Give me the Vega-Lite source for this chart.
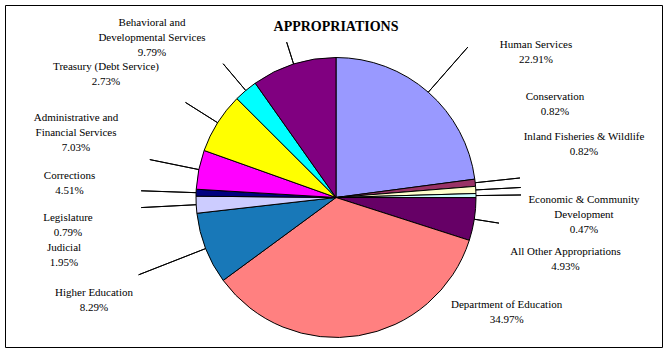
{
  "$schema": "https://vega.github.io/schema/vega-lite/v6.json",
  "width": 657,
  "height": 342,
  "autosize": {"type": "none"},
  "padding": {"left": 5, "top": 5, "right": 7, "bottom": 6},
  "background": "white",
  "view": {"stroke": "black", "strokeWidth": 1, "fill": null},
  "config": {"view": {"stroke": "black", "strokeWidth": 1}, "style": {"cell": {"stroke": "black", "strokeWidth": 1}}, "font": "Liberation Serif"},
  "title": {"text": "APPROPRIATIONS", "font": "Liberation Serif", "fontSize": 14, "fontWeight": "bold", "color": "black", "anchor": "middle", "frame": "group", "baseline": "alphabetic", "offset": -24, "dx": 2.5, "dy": 16},
  "data": {"values": [
    {"name": "Human Services", "value": 22.91, "label": "Human Services\n22.91%"},
    {"name": "Conservation", "value": 0.82, "label": "Conservation\n0.82%"},
    {"name": "Inland Fisheries & Wildlife", "value": 0.82, "label": "Inland Fisheries & Wildlife\n0.82%"},
    {"name": "Economic & Community Development", "value": 0.47, "label": "Economic & Community\nDevelopment\n0.47%"},
    {"name": "All Other Appropriations", "value": 4.93, "label": "All Other Appropriations\n4.93%"},
    {"name": "Department of Education", "value": 34.97, "label": "Department of Education\n34.97%"},
    {"name": "Higher Education", "value": 8.29, "label": "Higher Education\n8.29%"},
    {"name": "Judicial", "value": 1.95, "label": "Judicial\n1.95%"},
    {"name": "Legislature", "value": 0.79, "label": "Legislature\n0.79%"},
    {"name": "Corrections", "value": 4.51, "label": "Corrections\n4.51%"},
    {"name": "Administrative and Financial Services", "value": 7.03, "label": "Administrative and\nFinancial Services\n7.03%"},
    {"name": "Treasury (Debt Service)", "value": 2.73, "label": "Treasury (Debt Service)\n2.73%"},
    {"name": "Behavioral and Developmental Services", "value": 9.79, "label": "Behavioral and\nDevelopmental Services\n9.79%"}
  ]},
  "transform": [
    {"stack": "value", "groupby": [], "as": ["v0", "v1"]},
    {"calculate": "(datum.v0 + datum.v1) / 2", "as": "mid"}
  ],
  "layer": [
    {
      "mark": {"type": "arc", "outerRadius": 140, "stroke": "black", "strokeWidth": 1, "x": {"expr": "width/2+2.5"}, "y": {"expr": "height/2+21.5"}},
      "encoding": {
        "theta": {"field": "v0", "type": "quantitative", "stack": null, "scale": {"domain": [0, 100.01]}},
        "theta2": {"field": "v1"},
        "color": {"field": "name", "type": "nominal", "legend": null, "scale": {
          "domain": ["Human Services", "Conservation", "Inland Fisheries & Wildlife", "Economic & Community Development", "All Other Appropriations", "Department of Education", "Higher Education", "Judicial", "Legislature", "Corrections", "Administrative and Financial Services", "Treasury (Debt Service)", "Behavioral and Developmental Services"],
          "range": ["#9999FF", "#993366", "#FFFFCC", "#CCFFFF", "#660066", "#FF8080", "#1878B8", "#CCCCFF", "#000080", "#FF00FF", "#FFFF00", "#00FFFF", "#800080"]}}
      }
    },
    {"transform": [{"filter": "datum.name === 'Human Services'"}], "layer": [
      {"mark": {"type": "arc", "innerRadius": 140, "outerRadius": 200, "filled": false, "stroke": "black", "strokeWidth": 1, "x": {"expr": "width/2+2.5"}, "y": {"expr": "height/2+21.5"}}, "encoding": {"theta": {"field": "mid", "type": "quantitative", "stack": null, "scale": {"domain": [0, 100.01]}}, "theta2": {"field": "mid"}}},
      {"mark": {"type": "text", "radius": 140, "dx": 107.7, "dy": -47.2, "x": {"expr": "width/2+2.5"}, "y": {"expr": "height/2+21.5"}, "align": "center", "baseline": "middle", "lineBreak": "\n", "font": "Liberation Serif", "fontSize": 11, "lineHeight": 15, "color": "black"}, "encoding": {"theta": {"field": "mid", "type": "quantitative", "stack": null, "scale": {"domain": [0, 100.01]}}, "text": {"field": "label"}}}
    ]},
    {"transform": [{"filter": "datum.name === 'Conservation'"}], "layer": [
      {"mark": {"type": "arc", "innerRadius": 140, "outerRadius": 185, "filled": false, "stroke": "black", "strokeWidth": 1, "x": {"expr": "width/2+2.5"}, "y": {"expr": "height/2+21.5"}}, "encoding": {"theta": {"field": "mid", "type": "quantitative", "stack": null, "scale": {"domain": [0, 100.01]}}, "theta2": {"field": "mid"}}},
      {"mark": {"type": "text", "radius": 140, "dx": 79.8, "dy": -85.7, "x": {"expr": "width/2+2.5"}, "y": {"expr": "height/2+21.5"}, "align": "center", "baseline": "middle", "lineBreak": "\n", "font": "Liberation Serif", "fontSize": 11, "lineHeight": 15, "color": "black"}, "encoding": {"theta": {"field": "mid", "type": "quantitative", "stack": null, "scale": {"domain": [0, 100.01]}}, "text": {"field": "label"}}}
    ]},
    {"transform": [{"filter": "datum.name === 'Inland Fisheries & Wildlife'"}], "layer": [
      {"mark": {"type": "arc", "innerRadius": 140, "outerRadius": 185, "filled": false, "stroke": "black", "strokeWidth": 1, "x": {"expr": "width/2+2.5"}, "y": {"expr": "height/2+21.5"}}, "encoding": {"theta": {"field": "mid", "type": "quantitative", "stack": null, "scale": {"domain": [0, 100.01]}}, "theta2": {"field": "mid"}}},
      {"mark": {"type": "text", "radius": 140, "dx": 108.2, "dy": -52.9, "x": {"expr": "width/2+2.5"}, "y": {"expr": "height/2+21.5"}, "align": "center", "baseline": "middle", "lineBreak": "\n", "font": "Liberation Serif", "fontSize": 11, "lineHeight": 15, "color": "black"}, "encoding": {"theta": {"field": "mid", "type": "quantitative", "stack": null, "scale": {"domain": [0, 100.01]}}, "text": {"field": "label"}}}
    ]},
    {"transform": [{"filter": "datum.name === 'Economic & Community Development'"}], "layer": [
      {"mark": {"type": "arc", "innerRadius": 140, "outerRadius": 185, "filled": false, "stroke": "black", "strokeWidth": 1, "x": {"expr": "width/2+2.5"}, "y": {"expr": "height/2+21.5"}}, "encoding": {"theta": {"field": "mid", "type": "quantitative", "stack": null, "scale": {"domain": [0, 100.01]}}, "theta2": {"field": "mid"}}},
      {"mark": {"type": "text", "radius": 140, "dx": 108, "dy": 4.4, "x": {"expr": "width/2+2.5"}, "y": {"expr": "height/2+21.5"}, "align": "center", "baseline": "middle", "lineBreak": "\n", "font": "Liberation Serif", "fontSize": 11, "lineHeight": 15, "color": "black"}, "encoding": {"theta": {"field": "mid", "type": "quantitative", "stack": null, "scale": {"domain": [0, 100.01]}}, "text": {"field": "label"}}}
    ]},
    {"transform": [{"filter": "datum.name === 'All Other Appropriations'"}], "layer": [
      {"mark": {"type": "arc", "innerRadius": 140, "outerRadius": 165, "filled": false, "stroke": "black", "strokeWidth": 1, "x": {"expr": "width/2+2.5"}, "y": {"expr": "height/2+21.5"}}, "encoding": {"theta": {"field": "mid", "type": "quantitative", "stack": null, "scale": {"domain": [0, 100.01]}}, "theta2": {"field": "mid"}}},
      {"mark": {"type": "text", "radius": 140, "dx": 91.2, "dy": 32.8, "x": {"expr": "width/2+2.5"}, "y": {"expr": "height/2+21.5"}, "align": "center", "baseline": "middle", "lineBreak": "\n", "font": "Liberation Serif", "fontSize": 11, "lineHeight": 15, "color": "black"}, "encoding": {"theta": {"field": "mid", "type": "quantitative", "stack": null, "scale": {"domain": [0, 100.01]}}, "text": {"field": "label"}}}
    ]},
    {"transform": [{"filter": "datum.name === 'Department of Education'"}], "layer": [
      {"mark": {"type": "text", "radius": 140, "dx": 148.1, "dy": -30.7, "x": {"expr": "width/2+2.5"}, "y": {"expr": "height/2+21.5"}, "align": "center", "baseline": "middle", "lineBreak": "\n", "font": "Liberation Serif", "fontSize": 11, "lineHeight": 15, "color": "black"}, "encoding": {"theta": {"field": "mid", "type": "quantitative", "stack": null, "scale": {"domain": [0, 100.01]}}, "text": {"field": "label"}}}
    ]},
    {"transform": [{"filter": "datum.name === 'Higher Education'"}], "layer": [
      {"mark": {"type": "arc", "innerRadius": 140, "outerRadius": 212, "filled": false, "stroke": "black", "strokeWidth": 1, "x": {"expr": "width/2+2.5"}, "y": {"expr": "height/2+21.5"}}, "encoding": {"theta": {"field": "mid", "type": "quantitative", "stack": null, "scale": {"domain": [0, 100.01]}}, "theta2": {"field": "mid"}}},
      {"mark": {"type": "text", "radius": 140, "dx": -111.6, "dy": 44.4, "x": {"expr": "width/2+2.5"}, "y": {"expr": "height/2+21.5"}, "align": "center", "baseline": "middle", "lineBreak": "\n", "font": "Liberation Serif", "fontSize": 11, "lineHeight": 15, "color": "black"}, "encoding": {"theta": {"field": "mid", "type": "quantitative", "stack": null, "scale": {"domain": [0, 100.01]}}, "text": {"field": "label"}}}
    ]},
    {"transform": [{"filter": "datum.name === 'Judicial'"}], "layer": [
      {"mark": {"type": "arc", "innerRadius": 140, "outerRadius": 195, "filled": false, "stroke": "black", "strokeWidth": 1, "x": {"expr": "width/2+2.5"}, "y": {"expr": "height/2+21.5"}}, "encoding": {"theta": {"field": "mid", "type": "quantitative", "stack": null, "scale": {"domain": [0, 100.01]}}, "theta2": {"field": "mid"}}},
      {"mark": {"type": "text", "radius": 140, "dx": -132.2, "dy": 43.3, "x": {"expr": "width/2+2.5"}, "y": {"expr": "height/2+21.5"}, "align": "center", "baseline": "middle", "lineBreak": "\n", "font": "Liberation Serif", "fontSize": 11, "lineHeight": 15, "color": "black"}, "encoding": {"theta": {"field": "mid", "type": "quantitative", "stack": null, "scale": {"domain": [0, 100.01]}}, "text": {"field": "label"}}}
    ]},
    {"transform": [{"filter": "datum.name === 'Legislature'"}], "layer": [
      {"mark": {"type": "arc", "innerRadius": 140, "outerRadius": 195, "filled": false, "stroke": "black", "strokeWidth": 1, "x": {"expr": "width/2+2.5"}, "y": {"expr": "height/2+21.5"}}, "encoding": {"theta": {"field": "mid", "type": "quantitative", "stack": null, "scale": {"domain": [0, 100.01]}}, "theta2": {"field": "mid"}}},
      {"mark": {"type": "text", "radius": 140, "dx": -128.1, "dy": 25.3, "x": {"expr": "width/2+2.5"}, "y": {"expr": "height/2+21.5"}, "align": "center", "baseline": "middle", "lineBreak": "\n", "font": "Liberation Serif", "fontSize": 11, "lineHeight": 15, "color": "black"}, "encoding": {"theta": {"field": "mid", "type": "quantitative", "stack": null, "scale": {"domain": [0, 100.01]}}, "text": {"field": "label"}}}
    ]},
    {"transform": [{"filter": "datum.name === 'Corrections'"}], "layer": [
      {"mark": {"type": "arc", "innerRadius": 140, "outerRadius": 190, "filled": false, "stroke": "black", "strokeWidth": 1, "x": {"expr": "width/2+2.5"}, "y": {"expr": "height/2+21.5"}}, "encoding": {"theta": {"field": "mid", "type": "quantitative", "stack": null, "scale": {"domain": [0, 100.01]}}, "theta2": {"field": "mid"}}},
      {"mark": {"type": "text", "radius": 140, "dx": -129.3, "dy": 6.4, "x": {"expr": "width/2+2.5"}, "y": {"expr": "height/2+21.5"}, "align": "center", "baseline": "middle", "lineBreak": "\n", "font": "Liberation Serif", "fontSize": 11, "lineHeight": 15, "color": "black"}, "encoding": {"theta": {"field": "mid", "type": "quantitative", "stack": null, "scale": {"domain": [0, 100.01]}}, "text": {"field": "label"}}}
    ]},
    {"transform": [{"filter": "datum.name === 'Administrative and Financial Services'"}], "layer": [
      {"mark": {"type": "arc", "innerRadius": 140, "outerRadius": 178, "filled": false, "stroke": "black", "strokeWidth": 1, "x": {"expr": "width/2+2.5"}, "y": {"expr": "height/2+21.5"}}, "encoding": {"theta": {"field": "mid", "type": "quantitative", "stack": null, "scale": {"domain": [0, 100.01]}}, "theta2": {"field": "mid"}}},
      {"mark": {"type": "text", "radius": 140, "dx": -141.6, "dy": -4.8, "x": {"expr": "width/2+2.5"}, "y": {"expr": "height/2+21.5"}, "align": "center", "baseline": "middle", "lineBreak": "\n", "font": "Liberation Serif", "fontSize": 11, "lineHeight": 15, "color": "black"}, "encoding": {"theta": {"field": "mid", "type": "quantitative", "stack": null, "scale": {"domain": [0, 100.01]}}, "text": {"field": "label"}}}
    ]},
    {"transform": [{"filter": "datum.name === 'Treasury (Debt Service)'"}], "layer": [
      {"mark": {"type": "arc", "innerRadius": 140, "outerRadius": 175, "filled": false, "stroke": "black", "strokeWidth": 1, "x": {"expr": "width/2+2.5"}, "y": {"expr": "height/2+21.5"}}, "encoding": {"theta": {"field": "mid", "type": "quantitative", "stack": null, "scale": {"domain": [0, 100.01]}}, "theta2": {"field": "mid"}}},
      {"mark": {"type": "text", "radius": 140, "dx": -139.7, "dy": -23.5, "x": {"expr": "width/2+2.5"}, "y": {"expr": "height/2+21.5"}, "align": "center", "baseline": "middle", "lineBreak": "\n", "font": "Liberation Serif", "fontSize": 11, "lineHeight": 15, "color": "black"}, "encoding": {"theta": {"field": "mid", "type": "quantitative", "stack": null, "scale": {"domain": [0, 100.01]}}, "text": {"field": "label"}}}
    ]},
    {"transform": [{"filter": "datum.name === 'Behavioral and Developmental Services'"}], "layer": [
      {"mark": {"type": "arc", "innerRadius": 140, "outerRadius": 163, "filled": false, "stroke": "black", "strokeWidth": 1, "x": {"expr": "width/2+2.5"}, "y": {"expr": "height/2+21.5"}}, "encoding": {"theta": {"field": "mid", "type": "quantitative", "stack": null, "scale": {"domain": [0, 100.01]}}, "theta2": {"field": "mid"}}},
      {"mark": {"type": "text", "radius": 140, "dx": -141.6, "dy": -41.1, "x": {"expr": "width/2+2.5"}, "y": {"expr": "height/2+21.5"}, "align": "center", "baseline": "middle", "lineBreak": "\n", "font": "Liberation Serif", "fontSize": 11, "lineHeight": 15, "color": "black"}, "encoding": {"theta": {"field": "mid", "type": "quantitative", "stack": null, "scale": {"domain": [0, 100.01]}}, "text": {"field": "label"}}}
    ]}
  ]
}
